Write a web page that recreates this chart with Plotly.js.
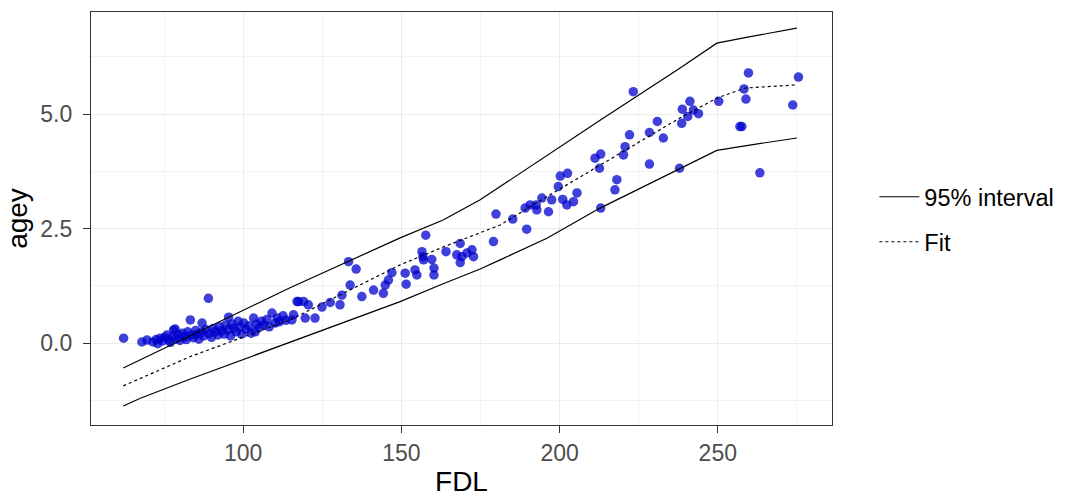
<!DOCTYPE html>
<html>
<head>
<meta charset="utf-8">
<script src="https://cdn.plot.ly/plotly-3.0.1.min.js"></script>
<style>html,body{margin:0;padding:0;background:#fff;}#chart{width:1065px;height:502px;}</style>
</head>
<body>
<div id="chart"></div>
<script>
// Observed data (FDL vs age in years)
const fdl = [
  62.2, 68.0, 69.6, 71.5, 72.5, 73.0, 73.8, 74.5, 75.2, 75.9, 76.5, 77.0, 77.8, 78.0, 78.5, 78.8, 79.5, 80.0,
  80.8, 81.5, 82.0, 82.5, 83.3, 83.5, 84.2, 85.0, 85.5, 86.0, 86.8, 87.0, 87.5, 88.2, 89.0, 89.2, 90.0, 90.5,
  91.2, 92.0, 92.5, 93.2, 94.0, 94.5, 95.4, 95.2, 96.0, 96.5, 97.0, 97.8, 98.4, 99.0, 99.5, 100.2, 101.0,
  101.8, 102.5, 103.3, 103.8, 104.2, 105.0, 105.8, 106.5, 107.5, 108.2, 109.1, 110.1, 110.8, 111.5, 112.6,
  113.5, 115.9, 115.4, 117.0, 117.5, 119.1, 120.6, 119.6, 122.7, 124.9, 127.5, 130.6, 131.2, 133.8, 133.3,
  135.7, 137.5, 141.2, 144.3, 144.9, 145.9, 147.0, 151.2, 151.5, 154.3, 154.9, 156.5, 156.8, 157.0, 157.7,
  159.6, 160.3, 160.3, 164.1, 168.6, 167.5, 169.1, 168.6, 170.7, 172.3, 172.8, 179.1, 179.9, 185.2, 189.6,
  189.1, 190.7, 192.8, 192.6, 194.4, 196.5, 197.5, 199.6, 200.2, 202.5, 201.0, 202.3, 204.4, 205.5, 211.2,
  213.0, 212.6, 213.0, 218.1, 217.5, 220.2, 220.7, 222.1, 228.4, 228.4, 232.8, 230.9, 237.9, 238.6, 223.3,
  241.2, 238.8, 242.3, 243.9, 240.5, 250.3, 259.7, 258.3, 258.9, 257.0, 257.6, 263.3, 273.7, 275.5
];
const agey = [
  0.11, 0.03, 0.07, 0.03, 0.08, -0.01, 0.11, 0.05, 0.13, 0.18, 0.07, 0.02, 0.15, 0.29, 0.31, 0.10, 0.19, 0.06,
  0.22, 0.14, 0.08, 0.25, 0.51, 0.18, 0.12, 0.28, 0.20, 0.09, 0.24, 0.44, 0.16, 0.30, 0.98, 0.21, 0.13, 0.32,
  0.25, 0.18, 0.36, 0.27, 0.20, 0.40, 0.57, 0.30, 0.16, 0.42, 0.33, 0.25, 0.48, 0.36, 0.20, 0.44, 0.30,
  0.38, 0.22, 0.55, 0.25, 0.42, 0.34, 0.48, 0.40, 0.52, 0.36, 0.66, 0.44, 0.55, 0.47, 0.60,
  0.50, 0.62, 0.51, 0.91, 0.91, 0.91, 0.84, 0.55, 0.55, 0.79, 0.89, 0.84, 1.05, 1.27, 1.78,
  1.62, 1.02, 1.16, 1.09, 1.27, 1.38, 1.54, 1.53, 1.29, 1.60, 1.49, 2.00, 1.89, 1.82, 2.36,
  1.83, 1.64, 1.49, 2.00, 2.18, 1.93, 1.89, 1.76, 1.97, 2.04, 1.89, 2.22, 2.82, 2.71, 2.49,
  2.95, 3.02, 2.91, 3.02, 3.17, 2.87, 3.13, 3.42, 3.65, 3.71, 3.14, 3.02, 3.09, 3.28, 4.04,
  4.13, 3.82, 2.95, 3.57, 3.35, 4.11, 4.29, 4.55, 3.91, 4.60, 4.48, 4.84, 3.82, 4.80, 5.49,
  5.28, 5.11, 5.09, 5.01, 4.95, 5.28, 5.90, 5.55, 5.33, 4.73, 4.73, 3.72, 5.20, 5.81
];

// Fitted curve and 95% interval
const gridFDL = [62.1, 67.5, 83.3, 114.8, 149.6, 163.2, 174.9, 181.2, 196.0, 212.8, 238.1, 249.7, 258.6, 275.0];
const fitY    = [-0.93, -0.77, -0.29, 0.51, 1.71, 2.10, 2.41, 2.58, 3.20, 3.89, 4.92, 5.35, 5.57, 5.64];
const upperY  = [-0.54, -0.36, 0.17, 1.21, 2.30, 2.69, 3.13, 3.42, 4.10, 4.87, 6.01, 6.55, 6.67, 6.88];
const lowerY  = [-1.37, -1.20, -0.78, 0.03, 0.91, 1.30, 1.62, 1.82, 2.29, 2.95, 3.82, 4.21, 4.31, 4.48];

const xTicks = [100, 150, 200, 250];
const yTicks = [0, 2.5, 5.0];
const yTickLabels = ["0.0", "2.5", "5.0"];

const FONT = "Liberation Sans, Arial, Helvetica, sans-serif";

const traces = [
  {
    x: fdl, y: agey, type: "scatter", mode: "markers", showlegend: false, hoverinfo: "skip",
    marker: { color: "rgba(0,0,205,0.75)", size: 9.5, line: { width: 0 } }
  },
  {
    x: gridFDL, y: upperY, type: "scatter", mode: "lines", name: "95% interval",
    legendgroup: "ci", legend: "legend",
    line: { color: "#000", width: 1.2 }
  },
  {
    x: gridFDL, y: lowerY, type: "scatter", mode: "lines", name: "95% interval",
    legendgroup: "ci", showlegend: false,
    line: { color: "#000", width: 1.2 }
  },
  {
    x: gridFDL, y: fitY, type: "scatter", mode: "lines", name: "Fit",
    legend: "legend2",
    line: { color: "#000", width: 1.2, dash: "3px,3px" }
  }
];

const axisCommon = {
  showline: true, mirror: true, linecolor: "#333333", linewidth: 1.2,
  ticks: "outside", ticklen: 7, tickwidth: 1.2, tickcolor: "#333333",
  showgrid: true, gridcolor: "#ebebeb", gridwidth: 1.2,
  zeroline: false, automargin: false,
  tickfont: { family: FONT, size: 23, color: "#4d4d4d" }
};

const legendCommon = {
  xref: "container", yref: "container",
  x: 0.821, xanchor: "left", yanchor: "middle",
  bgcolor: "rgba(0,0,0,0)", borderwidth: 0,
  font: { family: FONT, size: 23.5, color: "#000" },
  itemwidth: 40
};

const layout = {
  width: 1065, height: 502,
  margin: { l: 91, r: 233, t: 12, b: 77, pad: 0, autoexpand: false },
  paper_bgcolor: "#ffffff", plot_bgcolor: "#ffffff",
  font: { family: FONT, color: "#000" },
  xaxis: Object.assign({}, axisCommon, {
    range: [51.9, 286.1],
    tickmode: "array", tickvals: xTicks, ticktext: xTicks.map(String),
    minor: { tickmode: "array", tickvals: [75, 125, 175, 225, 275], showgrid: true, gridcolor: "#ebebeb", gridwidth: 0.6, ticks: "" },
    title: { text: "FDL", font: { family: FONT, size: 28, color: "#000" }, standoff: 6 }
  }),
  yaxis: Object.assign({}, axisCommon, {
    range: [-1.784, 7.23],
    tickmode: "array", tickvals: yTicks, ticktext: yTickLabels,
    ticklabelstandoff: 6,
    minor: { tickmode: "array", tickvals: [-1.25, 1.25, 3.75, 6.25], showgrid: true, gridcolor: "#ebebeb", gridwidth: 0.6, ticks: "" },
    title: { text: "agey", font: { family: FONT, size: 28, color: "#000" }, standoff: 4 }
  }),
  legend: Object.assign({}, legendCommon, { y: 0.6076 }),
  legend2: Object.assign({}, legendCommon, { y: 0.518 })
};

Plotly.newPlot("chart", traces, layout, { displayModeBar: false, staticPlot: true });
</script>
</body>
</html>
